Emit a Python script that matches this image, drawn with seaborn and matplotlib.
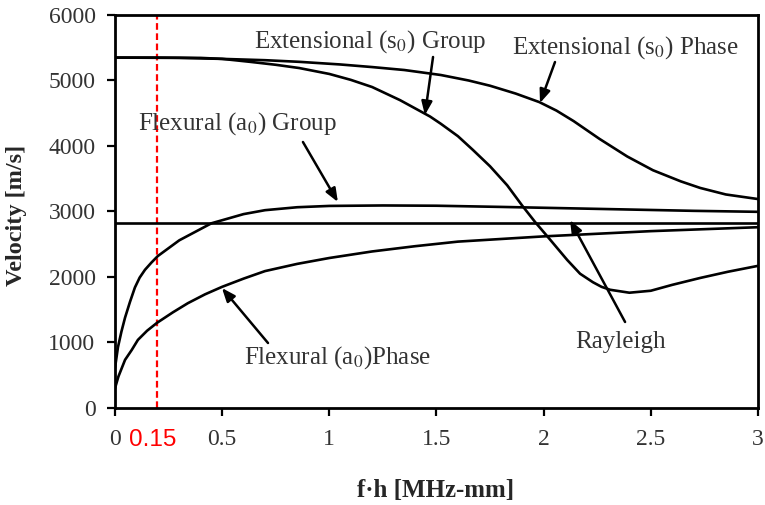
import matplotlib
matplotlib.use("Agg")
import matplotlib.pyplot as plt
import pandas as pd
import seaborn as sns

# s0 (extensional) phase velocity
s0_phase_fh = [0, 0.3, 0.5, 0.7, 0.86, 1.05, 1.2, 1.35, 1.52, 1.65, 1.75, 1.87, 1.98,
               2.06, 2.14, 2.26, 2.39, 2.51, 2.64, 2.73, 2.85, 3.0]
s0_phase_v = [5350, 5345, 5330, 5310, 5285, 5245, 5205, 5160, 5084, 5000, 4920, 4800, 4670,
              4540, 4380, 4110, 3840, 3630, 3460, 3360, 3260, 3190]

# s0 (extensional) group velocity
s0_group_fh = [0, 0.2, 0.4, 0.5, 0.63, 0.75, 0.86, 1.0, 1.1, 1.2, 1.33, 1.47, 1.52, 1.6,
               1.67, 1.75, 1.83, 1.9, 1.96, 2.02, 2.11, 2.17, 2.23, 2.27, 2.31, 2.40, 2.50,
               2.6, 2.73, 2.86, 3.0]
s0_group_v = [5350, 5350, 5345, 5330, 5285, 5240, 5190, 5100, 5010, 4900, 4700, 4450, 4340,
              4150, 3940, 3690, 3400, 3090, 2840, 2610, 2260, 2050, 1920, 1850, 1805, 1760,
              1790, 1880, 1985, 2080, 2170]

# a0 (flexural) group velocity
a0_group_fh = [0, 0.014, 0.03, 0.047, 0.07, 0.093, 0.115, 0.14, 0.17, 0.2, 0.3, 0.45, 0.6,
               0.7, 0.85, 1.0, 1.25, 1.5, 1.8, 2.1, 2.4, 2.7, 3.0]
a0_group_v = [610, 930, 1165, 1380, 1620, 1840, 1990, 2110, 2220, 2320, 2560, 2820, 2960,
              3020, 3065, 3085, 3092, 3088, 3070, 3050, 3030, 3010, 2995]

# a0 (flexural) phase velocity
a0_phase_fh = [0, 0.016, 0.047, 0.078, 0.107, 0.15, 0.196, 0.27, 0.34, 0.42, 0.5, 0.6, 0.7,
               0.85, 1.0, 1.2, 1.4, 1.6, 1.8, 2.0, 2.25, 2.5, 2.75, 3.0]
a0_phase_v = [300, 480, 735, 885, 1040, 1180, 1300, 1460, 1600, 1735, 1850, 1975, 2090,
              2200, 2290, 2390, 2470, 2540, 2580, 2620, 2660, 2700, 2730, 2760]

# Rayleigh wave velocity
rayleigh_fh = [0, 3.0]
rayleigh_v = [2830, 2830]

marker_fh = 0.195  # red line as drawn
marker_label = "0.15"

x_ticks = [0, 0.5, 1, 1.5, 2, 2.5, 3]
x_tick_labels = ["0", "0.5", "1", "1.5", "2", "2.5", "3"]
y_ticks = [0, 1000, 2000, 3000, 4000, 5000, 6000]

sns.set_style("ticks")
plt.rcParams["font.family"] = ["Liberation Serif", "DejaVu Serif"]
plt.rcParams["mathtext.fontset"] = "stix"

fig = plt.figure(figsize=(7.65, 5.05), dpi=100)
ax = fig.add_axes([0.1503, 0.1921, 0.8405, 0.7782])

curves = [
    (s0_phase_fh, s0_phase_v),
    (s0_group_fh, s0_group_v),
    (a0_group_fh, a0_group_v),
    (a0_phase_fh, a0_phase_v),
    (rayleigh_fh, rayleigh_v),
]
for fh, v in curves:
    df = pd.DataFrame({"fh": fh, "v": v})
    sns.lineplot(data=df, x="fh", y="v", ax=ax, color="black", linewidth=1.9,
                 sort=False, estimator=None)

ax.plot([marker_fh, marker_fh], [0, 6000], color="red", linewidth=1.6,
        linestyle=(0, (3, 1.6)), zorder=1)

ax.set_xlim(0, 3)
ax.set_ylim(0, 6000)
ax.set_xticks(x_ticks)
ax.set_xticklabels(x_tick_labels)
ax.set_yticks(y_ticks)
ax.tick_params(direction="out", length=6, width=1.6, labelsize=17, colors="black",
               labelcolor="#333333")
ax.tick_params(axis="x", pad=9)
ax.tick_params(axis="y", pad=8)
for sp in ax.spines.values():
    sp.set_linewidth(2)
    sp.set_color("black")

ax.text(0.178, -0.081, marker_label, transform=ax.get_xaxis_transform(), color="red",
        fontsize=17.5, ha="center", va="center", family=["Liberation Sans", "DejaVu Sans"])

ax.set_xlabel("f\u00b7h [MHz-mm]", fontsize=18, fontweight="bold")
ax.set_ylabel("Velocity [m/s]", fontsize=17.5, fontweight="bold")
ax.xaxis.set_label_coords(0.498, -0.209)
ax.xaxis.label.set_va("center")
ax.yaxis.set_label_coords(-0.153, 0.49)
ax.yaxis.label.set_va("center")

# labels with arrows: (text, text pos, arrow start, arrow tip)
notes = [
    ("Extensional (s$_0$) Group", (1.19, 5588), (1.484, 5359), (1.446, 4473)),
    ("Extensional (s$_0$) Phase", (2.38, 5496), (2.053, 5282), (1.983, 4656)),
    ("Flexural (a$_0$) Group", (0.57, 4336), (0.877, 4061), (1.040, 3145)),
    ("Flexural (a$_0$)Phase", (1.04, 763), (0.714, 992), (0.499, 1832)),
    ("Rayleigh", (2.36, 1008), (2.380, 1313), (2.123, 2870)),
]
for label, tpos, start, tip in notes:
    ax.text(tpos[0], tpos[1], label, fontsize=18, color="#333333", ha="center", va="center")
    ax.annotate("", xy=tip, xytext=start,
                arrowprops=dict(arrowstyle="-|>,head_length=0.8,head_width=0.32",
                                color="black", lw=1.8, shrinkA=0, shrinkB=0))

fig.savefig("out.png", dpi=100, facecolor="white")
